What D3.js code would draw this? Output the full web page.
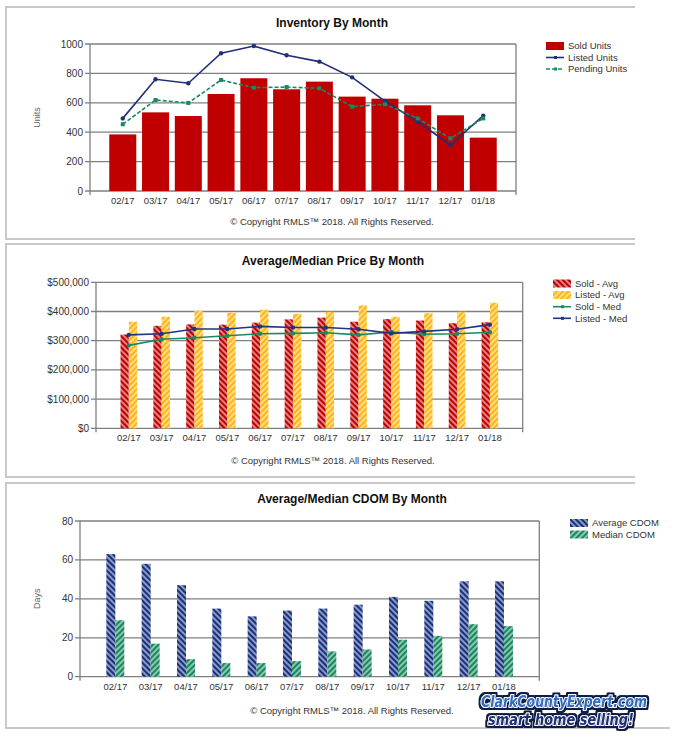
<!DOCTYPE html>
<html>
<head>
<meta charset="utf-8">
<script src="https://cdn.jsdelivr.net/npm/d3@7"></script>
<style>
  body { margin: 0; background: #fff; }
  svg { display: block; font-family: "Liberation Sans", Arial, sans-serif; }
</style>
</head>
<body>
<svg id="chart" width="677" height="737"></svg>
<script>
// months on the x axis, shared by all three charts
const months = ["02/17", "03/17", "04/17", "05/17", "06/17", "07/17", "08/17", "09/17", "10/17", "11/17", "12/17", "01/18"];

// inventory (units)
const soldUnits    = [385, 535, 510, 660, 767, 692, 744, 642, 628, 583, 515, 363];
const listedUnits  = [494, 760, 733, 937, 986, 923, 880, 773, 612, 471, 313, 513];
const pendingUnits = [454, 619, 599, 755, 703, 707, 699, 574, 590, 494, 358, 494];
const unitTicks = [0, 200, 400, 600, 800, 1000];

// prices (dollars)
const soldAvg   = [321000, 351000, 356000, 355000, 362000, 373000, 379000, 365000, 374000, 369000, 360000, 363000];
const listedAvg = [365000, 382000, 402000, 396000, 406000, 392000, 399000, 421000, 382000, 394000, 399000, 430000];
const soldMed   = [284000, 305000, 310000, 317000, 324000, 325000, 327000, 320000, 330000, 322000, 324000, 329000];
const listedMed = [320000, 324000, 340000, 340000, 349000, 345000, 345000, 339000, 325000, 332000, 339000, 355000];
const priceTicks = [0, 100000, 200000, 300000, 400000, 500000];

// cumulative days on market
const avgCdom = [63, 58, 47, 35, 31, 34, 35, 37, 41, 39, 49, 49];
const medCdom = [29, 17, 9, 7, 7, 8, 13, 14, 19, 21, 27, 26];
const dayTicks = [0, 20, 40, 60, 80];

const svg = d3.select("#chart");
const gridColor = "#7f7f7f";
const textColor = "#333";
const copyright = "\u00a9 Copyright RMLS\u2122 2018.  All Rights Reserved.";

// striped fills
const defs = svg.append("defs");
function stripes(id, color, angle){
    const p = defs.append("pattern")
        .attr("id", id)
        .attr("patternUnits", "userSpaceOnUse")
        .attr("width", 4).attr("height", 4)
        .attr("patternTransform", "rotate(" + angle + ")");
    p.append("rect").attr("width", 4).attr("height", 4).attr("fill", color);
    p.append("line").attr("x1", 2).attr("x2", 2).attr("y1", 0).attr("y2", 4)
        .attr("stroke", "#fff").attr("stroke-width", 1.2).attr("stroke-opacity", 0.85);
}
stripes("redStripe", "#c00000", -45);
stripes("goldStripe", "#ffb612", 45);
stripes("navyStripe", "#17307f", -45);
stripes("greenStripe", "#17885e", 45);

// dark outline for the logo text
const outline = defs.append("filter").attr("id", "logoOutline")
    .attr("x", "-5%").attr("y", "-30%").attr("width", "110%").attr("height", "160%");
outline.append("feMorphology").attr("in", "SourceAlpha").attr("operator", "dilate")
    .attr("radius", 1.6).attr("result", "fat");
outline.append("feFlood").attr("flood-color", "#0d1a45");
outline.append("feComposite").attr("in2", "fat").attr("operator", "in").attr("result", "edge");
const merge = outline.append("feMerge");
merge.append("feMergeNode").attr("in", "edge");
merge.append("feMergeNode").attr("in", "SourceGraphic");

// panel frame (top, left, bottom lines)
function frame(y0, y1, right, bottomRight){
    svg.append("path")
        .attr("d", "M" + right + "," + y0 + "H6V" + y1 + "H" + bottomRight)
        .attr("fill", "none").attr("stroke", "#c8c8c8").attr("stroke-width", 2);
}

// plot area with gridlines, axes, labels
function plotArea(o){
    const x = d3.scalePoint().domain(months).range([o.x0, o.x1]).padding(1);
    const y = d3.scaleLinear().domain(o.domain).range([o.y0, o.y1]);
    const g = svg.append("g");

    // gridlines + left tick marks
    g.selectAll(".grid").data(o.ticks).enter().append("line")
        .attr("x1", o.x0 - 5).attr("x2", o.x1)
        .attr("y1", d => y(d)).attr("y2", d => y(d))
        .attr("stroke", gridColor).attr("stroke-width", 1.3);
    g.selectAll(".ylab").data(o.ticks).enter().append("text")
        .attr("x", o.x0 - 7).attr("y", d => y(d)).attr("dy", "0.35em")
        .attr("text-anchor", "end").attr("font-size", 10).attr("fill", textColor)
        .text(o.fmt);
    // axis lines
    g.append("line").attr("x1", o.x0).attr("x2", o.x0).attr("y1", o.y1).attr("y2", o.y0 + 4)
        .attr("stroke", gridColor).attr("stroke-width", 1.3);
    g.append("line").attr("x1", o.x1).attr("x2", o.x1).attr("y1", o.y1).attr("y2", o.y0 + 4)
        .attr("stroke", gridColor).attr("stroke-width", 1.3);
    // x labels
    g.selectAll(".xlab").data(months).enter().append("text")
        .attr("x", d => x(d)).attr("y", o.y0 + 13)
        .attr("text-anchor", "middle").attr("font-size", 9.5).attr("fill", textColor)
        .text(d => d);
    // title and copyright
    svg.append("text").attr("x", o.cx).attr("y", o.titleY)
        .attr("text-anchor", "middle").attr("font-size", 12).attr("font-weight", "bold")
        .attr("fill", "#111").text(o.title);
    svg.append("text").attr("x", o.cx).attr("y", o.copyY)
        .attr("text-anchor", "middle").attr("font-size", 9.5).attr("fill", textColor)
        .text(copyright);
    if(o.yLabel){
        svg.append("text")
            .attr("transform", "translate(40," + ((o.y0 + o.y1) / 2) + ") rotate(-90)")
            .attr("text-anchor", "middle").attr("font-size", 9).attr("fill", "#666")
            .text(o.yLabel);
    }
    return {x: x, y: y, g: g};
}

function drawLine(area, values, color, dashed, square){
    const pts = months.map((m, i) => [area.x(m), area.y(values[i])]);
    area.g.append("path")
        .attr("d", d3.line()(pts))
        .attr("fill", "none").attr("stroke", color).attr("stroke-width", 1.6)
        .attr("stroke-dasharray", dashed ? "4,2" : null);
    if(square){
        area.g.selectAll(null).data(pts).enter().append("rect")
            .attr("x", d => d[0] - 2).attr("y", d => d[1] - 2)
            .attr("width", 4).attr("height", 4).attr("fill", color);
    } else {
        area.g.selectAll(null).data(pts).enter().append("circle")
            .attr("cx", d => d[0]).attr("cy", d => d[1]).attr("r", 2.2).attr("fill", color);
    }
}

function legend(x0, rows){
    rows.forEach(r => {
        if(r.type === "rect"){
            svg.append("rect").attr("x", x0).attr("y", r.y - 4).attr("width", 18).attr("height", 8)
                .attr("fill", r.fill);
        } else {
            svg.append("line").attr("x1", x0).attr("x2", x0 + 18).attr("y1", r.y).attr("y2", r.y)
                .attr("stroke", r.fill).attr("stroke-width", 1.6)
                .attr("stroke-dasharray", r.dashed ? "4,2" : null);
            svg.append("rect").attr("x", x0 + 8).attr("y", r.y - 1.5).attr("width", 3).attr("height", 3)
                .attr("fill", r.fill);
        }
        svg.append("text").attr("x", x0 + 22).attr("y", r.y).attr("dy", "0.35em")
            .attr("font-size", 9.5).attr("fill", textColor).text(r.label);
    });
}

// ---------- panel 1: inventory ----------
frame(7, 239, 635, 635);
const a1 = plotArea({x0: 90, x1: 516, y0: 191, y1: 44, domain: [0, 1000], ticks: unitTicks,
    fmt: d => d, title: "Inventory By Month", cx: 332, titleY: 27, copyY: 225, yLabel: "Units"});
a1.g.selectAll(".bar").data(soldUnits).enter().append("rect")
    .attr("x", (d, i) => a1.x(months[i]) - 13.5).attr("width", 27)
    .attr("y", d => a1.y(d)).attr("height", d => a1.y(0) - a1.y(d))
    .attr("fill", "#c00000");
drawLine(a1, listedUnits, "#1f2f78", false, false);
drawLine(a1, pendingUnits, "#188a62", true, true);
legend(546, [
    {type: "rect", fill: "#c00000", label: "Sold Units", y: 46},
    {type: "line", fill: "#1f2f78", label: "Listed Units", y: 57.5},
    {type: "line", fill: "#188a62", label: "Pending Units", y: 69, dashed: true}
]);

// ---------- panel 2: prices ----------
frame(244, 477, 635, 635);
const a2 = plotArea({x0: 96, x1: 522.7, y0: 428.3, y1: 282.3, domain: [0, 500000], ticks: priceTicks,
    fmt: d => "$" + d3.format(",")(d), title: "Average/Median Price By Month", cx: 333, titleY: 265, copyY: 463.5});
a2.g.selectAll(".sa").data(soldAvg).enter().append("rect")
    .attr("x", (d, i) => a2.x(months[i]) - 8.3).attr("width", 8.3)
    .attr("y", d => a2.y(d)).attr("height", d => a2.y(0) - a2.y(d))
    .attr("fill", "url(#redStripe)");
a2.g.selectAll(".la").data(listedAvg).enter().append("rect")
    .attr("x", (d, i) => a2.x(months[i])).attr("width", 8.3)
    .attr("y", d => a2.y(d)).attr("height", d => a2.y(0) - a2.y(d))
    .attr("fill", "url(#goldStripe)");
drawLine(a2, soldMed, "#1b8a64", false, false);
drawLine(a2, listedMed, "#1f3484", false, false);
legend(553, [
    {type: "rect", fill: "url(#redStripe)", label: "Sold - Avg", y: 283.5},
    {type: "rect", fill: "url(#goldStripe)", label: "Listed - Avg", y: 295},
    {type: "line", fill: "#1b8a64", label: "Sold - Med", y: 306.7},
    {type: "line", fill: "#1f3484", label: "Listed - Med", y: 318.3}
]);

// ---------- panel 3: CDOM ----------
frame(483, 728, 635, 670);
const a3 = plotArea({x0: 80, x1: 539.3, y0: 676.7, y1: 521, domain: [0, 80], ticks: dayTicks,
    fmt: d => d, title: "Average/Median CDOM By Month", cx: 352, titleY: 502.5, copyY: 713.5, yLabel: "Days"});
a3.g.selectAll(".ac").data(avgCdom).enter().append("rect")
    .attr("x", (d, i) => a3.x(months[i]) - 9).attr("width", 9)
    .attr("y", d => a3.y(d)).attr("height", d => a3.y(0) - a3.y(d))
    .attr("fill", "url(#navyStripe)");
a3.g.selectAll(".mc").data(medCdom).enter().append("rect")
    .attr("x", (d, i) => a3.x(months[i])).attr("width", 9)
    .attr("y", d => a3.y(d)).attr("height", d => a3.y(0) - a3.y(d))
    .attr("fill", "url(#greenStripe)");
legend(570, [
    {type: "rect", fill: "url(#navyStripe)", label: "Average CDOM", y: 523},
    {type: "rect", fill: "url(#greenStripe)", label: "Median CDOM", y: 534.5}
]);

// ---------- watermark logo ----------
function logoText(txt, x, y, len, fill){
    svg.append("text").attr("x", x).attr("y", y)
        .attr("font-size", 15).attr("font-weight", "bold").attr("font-style", "italic")
        .attr("font-family", "'DejaVu Sans', sans-serif")
        .attr("textLength", len).attr("lengthAdjust", "spacingAndGlyphs")
        .attr("fill", fill).attr("stroke", "#fff").attr("stroke-width", 2)
        .attr("stroke-linejoin", "round").attr("paint-order", "stroke")
        .attr("filter", "url(#logoOutline)")
        .text(txt);
}
logoText("ClarkCountyExpert.com", 481, 707, 166, "#2f6cc4");
logoText("smart home selling!", 488, 725, 146, "#1b2e74");
</script>
</body>
</html>
